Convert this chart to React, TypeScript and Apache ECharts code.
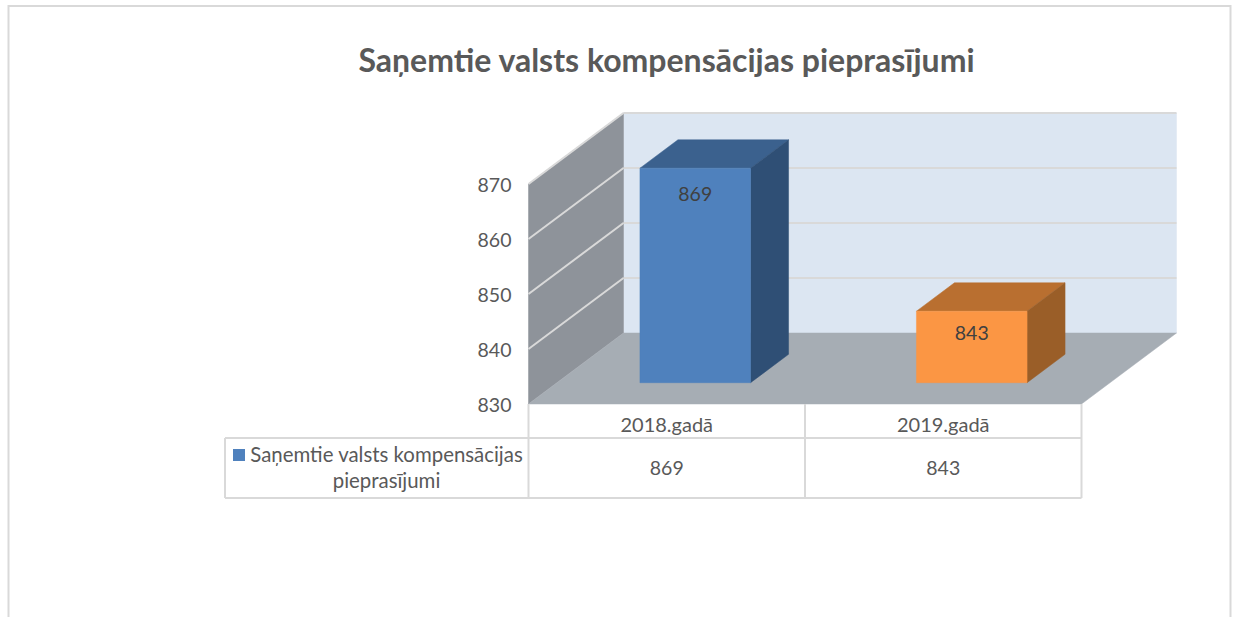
import React, { useEffect, useRef } from "react";
import * as echarts from "echarts";

const titleText = "Saņemtie valsts kompensācijas pieprasījumi";
const seriesNameLines = ["Saņemtie valsts kompensācijas", "pieprasījumi"];
const categories = ["2018.gadā", "2019.gadā"];
const values = [869, 843];
const yTicks = [830, 840, 850, 860, 870];

const FONT = "Lato, 'Noto Sans', sans-serif";
const TEXT = "#595959";
const LINE = "#d9d9d9";
const faces = [
  { front: "#4f81bd", top: "#3b618e", side: "#2f4f75" },
  { front: "#fb9644", top: "#b96f30", side: "#9a5e28" },
];
const labelDrops = [25, 21];
const DX = 95;
const DY = -71;
const BAR_DEPTH_START = 0.3;
const BAR_DEPTH_END = 0.7;
const BAR_WIDTH = 0.4;
const TABLE_TOP = 438;
const TABLE_BOTTOM = 498;
const TABLE_LEFT = 225;

export default function App() {
  const ref = useRef<HTMLDivElement>(null);
  useEffect(() => {
    if (!ref.current) return;
    const chart = echarts.init(ref.current, null, { renderer: "svg" });

    const poly = (points: number[][], fill: string) => ({
      type: "polygon",
      shape: { points },
      style: { fill, stroke: fill, lineWidth: 0.5 },
    });
    const line = (x1: number, y1: number, x2: number, y2: number, stroke = LINE, lineWidth = 2) => ({
      type: "line",
      shape: { x1, y1, x2, y2 },
      style: { stroke, lineWidth },
    });

    const renderFrame = (params: any, api: any) => {
      const x0 = params.coordSys.x;
      const x1 = x0 + params.coordSys.width;
      const yb = api.coord([0, yTicks[0]])[1];
      const yt = api.coord([0, yTicks[yTicks.length - 1]])[1];
      const children: any[] = [
        poly([[x0 + DX, yt + DY], [x1 + DX, yt + DY], [x1 + DX, yb + DY], [x0 + DX, yb + DY]], "#dce6f2"),
        poly([[x0, yt], [x0 + DX, yt + DY], [x0 + DX, yb + DY], [x0, yb]], "#8e939a"),
        poly([[x0, yb], [x0 + DX, yb + DY], [x1 + DX, yb + DY], [x1, yb]], "#a6adb4"),
      ];
      yTicks.slice(1).forEach((t) => {
        const y = api.coord([0, t])[1];
        children.push(line(x0, y, x0 + DX, y + DY));
        children.push(line(x0 + DX, y + DY, x1 + DX, y + DY));
      });
      // data table rules
      const band = params.coordSys.width / categories.length;
      children.push(line(TABLE_LEFT, TABLE_TOP, x1, TABLE_TOP));
      children.push(line(TABLE_LEFT, TABLE_BOTTOM, x1, TABLE_BOTTOM));
      children.push(line(TABLE_LEFT, TABLE_TOP, TABLE_LEFT, TABLE_BOTTOM));
      categories.forEach((_, i) => {
        children.push(line(x0 + band * i, yb, x0 + band * i, TABLE_BOTTOM));
      });
      children.push(line(x1, yb, x1, TABLE_BOTTOM));
      return { type: "group", children };
    };

    const renderBar = (params: any, api: any) => {
      const i = api.value(0);
      const v = api.value(1);
      const band = api.size([1, 0])[0];
      const w = band * BAR_WIDTH;
      const base = api.coord([i, yTicks[0]]);
      const top = api.coord([i, v]);
      const fx = BAR_DEPTH_START * DX;
      const fy = BAR_DEPTH_START * DY;
      const bx = (BAR_DEPTH_END - BAR_DEPTH_START) * DX;
      const by = (BAR_DEPTH_END - BAR_DEPTH_START) * DY;
      const l = base[0] - w / 2 + fx;
      const r = l + w;
      const yB = base[1] + fy;
      const yT = top[1] + fy;
      const c = faces[params.dataIndex];
      return {
        type: "group",
        children: [
          poly([[l, yT], [r, yT], [r + bx, yT + by], [l + bx, yT + by]], c.top),
          poly([[r, yT], [r + bx, yT + by], [r + bx, yB + by], [r, yB]], c.side),
          poly([[l, yT], [r, yT], [r, yB], [l, yB]], c.front),
          {
            type: "text",
            x: (l + r) / 2,
            y: yT + labelDrops[params.dataIndex],
            style: { text: String(v), fill: "#404040", font: `19.5px ${FONT}`, textAlign: "center", textVerticalAlign: "middle" },
          },
          {
            type: "text",
            x: base[0],
            y: (TABLE_TOP + TABLE_BOTTOM) / 2 - 1,
            style: { text: String(v), fill: TEXT, font: `19.5px ${FONT}`, textAlign: "center", textVerticalAlign: "middle" },
          },
        ],
      };
    };

    chart.setOption({
      animation: false,
      backgroundColor: "#ffffff",
      title: {
        text: titleText,
        left: 661.5,
        top: 38,
        textAlign: "center",
        textStyle: { fontFamily: FONT, fontWeight: "bold", fontSize: 32, color: TEXT },
      },
      grid: { left: 528.5, top: 184, width: 553, height: 220 },
      xAxis: {
        type: "category",
        data: categories,
        axisLine: { show: false },
        axisTick: { show: false },
        axisLabel: { color: TEXT, fontFamily: FONT, fontSize: 20, margin: 10 },
      },
      yAxis: {
        type: "value",
        min: 830,
        max: 870,
        interval: 10,
        axisLine: { show: false },
        axisTick: { show: false },
        splitLine: { show: false },
        axisLabel: { color: TEXT, fontFamily: FONT, fontSize: 19.5, margin: 17 },
      },
      graphic: [
        { type: "rect", z: -10, shape: { x: 8.5, y: 6, width: 1222, height: 700 }, style: { fill: "none", stroke: "#d9d9d9", lineWidth: 2 } },
        { type: "rect", z: 10, shape: { x: 233, y: 449, width: 12, height: 12 }, style: { fill: faces[0].front } },
        { type: "text", z: 10, x: 386.5, y: 454, style: { text: seriesNameLines[0], fill: TEXT, font: `20.4px ${FONT}`, textAlign: "center", textVerticalAlign: "middle" } },
        { type: "text", z: 10, x: 386.5, y: 480, style: { text: seriesNameLines[1], fill: TEXT, font: `20.4px ${FONT}`, textAlign: "center", textVerticalAlign: "middle" } },
      ],
      series: [
        { type: "custom", silent: true, z: 1, renderItem: renderFrame, data: [0] },
        {
          type: "custom",
          name: seriesNameLines.join(" "),
          silent: true,
          z: 2,
          encode: { x: 0, y: 1 },
          renderItem: renderBar,
          data: values.map((v, i) => [i, v]),
        },
      ],
    });
    return () => chart.dispose();
  }, []);
  return <div ref={ref} style={{ position: "fixed", left: 0, top: 0, width: 1233, height: 617 }} />;
}
